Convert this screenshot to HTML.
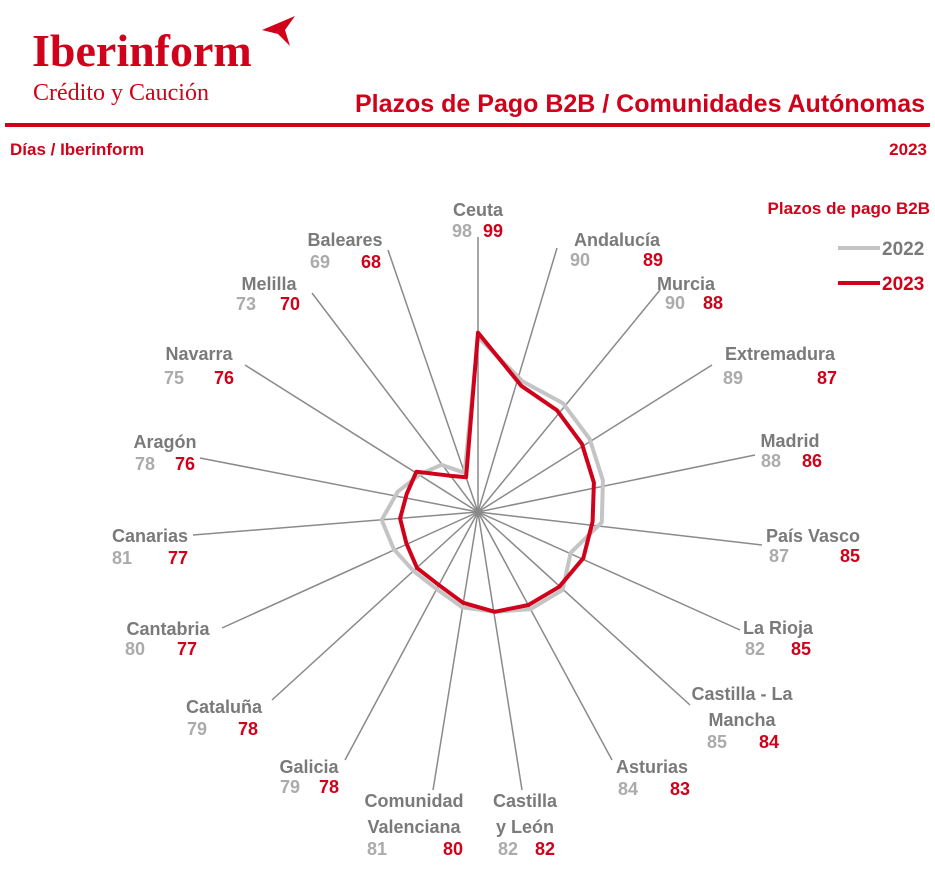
<!DOCTYPE html>
<html><head><meta charset="utf-8"><style>
html,body{margin:0;padding:0;background:#fff;}
svg{display:block;font-family:"Liberation Sans Narrow","Liberation Sans",sans-serif;font-weight:bold;}
.n{fill:#7a7a7a;font-size:18px;}
.g{fill:#ababab;font-size:18px;}
.r{fill:#d0021b;font-size:18px;}
</style></head><body>
<svg id="s" width="935" height="884" viewBox="0 0 935 884" xmlns="http://www.w3.org/2000/svg">
<text x="32" y="66" fill="#d0021b" style="font-family:'Liberation Serif',serif;font-size:46px;font-weight:bold">Iberinform</text>
<path d="M262 30 L295 16 L285 30 L290 46 L278 34 Z" fill="#d0021b"/>
<text x="33" y="100" fill="#d0021b" style="font-family:'Liberation Serif',serif;font-size:24px;font-weight:normal">Crédito y Caución</text>
<text x="925" y="112" text-anchor="end" fill="#d0021b" style="font-size:25px">Plazos de Pago B2B / Comunidades Autónomas</text>
<rect x="5" y="123" width="925" height="4" fill="#d0021b"/>
<text x="10" y="155" fill="#d0021b" style="font-size:17px">Días / Iberinform</text>
<text x="927" y="155" text-anchor="end" fill="#d0021b" style="font-size:17px">2023</text>
<text x="930" y="214" text-anchor="end" fill="#d0021b" style="font-size:17px">Plazos de pago B2B</text>
<line x1="838" y1="248" x2="880" y2="248" stroke="#c4c4c4" stroke-width="4"/>
<text x="882" y="255" class="n" style="font-size:19px">2022</text>
<line x1="838" y1="283" x2="880" y2="283" stroke="#d0021b" stroke-width="4"/>
<text x="882" y="290" class="n" style="font-size:19px;fill:#d0021b">2023</text>
<g id="sp" stroke="#8a8a8a" stroke-width="1.5"></g>
<g id="pl"></g>
<g>
<text x="478" y="216" text-anchor="middle" class="n">Ceuta</text>
<text x="462" y="237" text-anchor="middle" class="g">98</text><text x="493" y="237" text-anchor="middle" class="r">99</text>
<text x="617" y="246" text-anchor="middle" class="n">Andalucía</text>
<text x="580" y="266" text-anchor="middle" class="g">90</text><text x="653" y="266" text-anchor="middle" class="r">89</text>
<text x="686" y="290" text-anchor="middle" class="n">Murcia</text>
<text x="675" y="309" text-anchor="middle" class="g">90</text><text x="713" y="309" text-anchor="middle" class="r">88</text>
<text x="780" y="360" text-anchor="middle" class="n">Extremadura</text>
<text x="733" y="384" text-anchor="middle" class="g">89</text><text x="827" y="384" text-anchor="middle" class="r">87</text>
<text x="790" y="447" text-anchor="middle" class="n">Madrid</text>
<text x="771" y="467" text-anchor="middle" class="g">88</text><text x="812" y="467" text-anchor="middle" class="r">86</text>
<text x="813" y="542" text-anchor="middle" class="n">País Vasco</text>
<text x="779" y="562" text-anchor="middle" class="g">87</text><text x="850" y="562" text-anchor="middle" class="r">85</text>
<text x="778" y="634" text-anchor="middle" class="n">La Rioja</text>
<text x="755" y="655" text-anchor="middle" class="g">82</text><text x="801" y="655" text-anchor="middle" class="r">85</text>
<text x="742" y="700" text-anchor="middle" class="n">Castilla - La</text>
<text x="742" y="726" text-anchor="middle" class="n">Mancha</text>
<text x="717" y="748" text-anchor="middle" class="g">85</text><text x="769" y="748" text-anchor="middle" class="r">84</text>
<text x="652" y="773" text-anchor="middle" class="n">Asturias</text>
<text x="628" y="795" text-anchor="middle" class="g">84</text><text x="680" y="795" text-anchor="middle" class="r">83</text>
<text x="525" y="807" text-anchor="middle" class="n">Castilla</text>
<text x="525" y="833" text-anchor="middle" class="n">y León</text>
<text x="508" y="855" text-anchor="middle" class="g">82</text><text x="545" y="855" text-anchor="middle" class="r">82</text>
<text x="414" y="807" text-anchor="middle" class="n">Comunidad</text>
<text x="414" y="833" text-anchor="middle" class="n">Valenciana</text>
<text x="377" y="855" text-anchor="middle" class="g">81</text><text x="453" y="855" text-anchor="middle" class="r">80</text>
<text x="309" y="773" text-anchor="middle" class="n">Galicia</text>
<text x="290" y="793" text-anchor="middle" class="g">79</text><text x="329" y="793" text-anchor="middle" class="r">78</text>
<text x="224" y="713" text-anchor="middle" class="n">Cataluña</text>
<text x="197" y="735" text-anchor="middle" class="g">79</text><text x="248" y="735" text-anchor="middle" class="r">78</text>
<text x="168" y="635" text-anchor="middle" class="n">Cantabria</text>
<text x="135" y="655" text-anchor="middle" class="g">80</text><text x="187" y="655" text-anchor="middle" class="r">77</text>
<text x="150" y="542" text-anchor="middle" class="n">Canarias</text>
<text x="122" y="564" text-anchor="middle" class="g">81</text><text x="178" y="564" text-anchor="middle" class="r">77</text>
<text x="165" y="448" text-anchor="middle" class="n">Aragón</text>
<text x="145" y="470" text-anchor="middle" class="g">78</text><text x="185" y="470" text-anchor="middle" class="r">76</text>
<text x="199" y="360" text-anchor="middle" class="n">Navarra</text>
<text x="174" y="384" text-anchor="middle" class="g">75</text><text x="224" y="384" text-anchor="middle" class="r">76</text>
<text x="269" y="290" text-anchor="middle" class="n">Melilla</text>
<text x="246" y="310" text-anchor="middle" class="g">73</text><text x="290" y="310" text-anchor="middle" class="r">70</text>
<text x="345" y="246" text-anchor="middle" class="n">Baleares</text>
<text x="320" y="268" text-anchor="middle" class="g">69</text><text x="371" y="268" text-anchor="middle" class="r">68</text>
</g>
</svg>
<script>
var cx=478,cy=512,k=4.6,v0=60;
var ends=[[478,237],[557,248],[660,290],[712,365],[755,455],[762,545],[740,630],[690,705],[612,760],[522,790],[433,790],[345,760],[272,700],[222,628],[193,535],[200,458],[245,365],[312,293],[388,250]];
var a=[98,90,90,89,88,87,82,85,84,82,81,79,79,80,81,78,75,73,69];
var b=[99,89,88,87,86,85,85,84,83,82,80,78,78,77,77,76,76,70,68];
var NS="http://www.w3.org/2000/svg",sp=document.getElementById('sp'),pl=document.getElementById('pl');
ends.forEach(function(e){var l=document.createElementNS(NS,'line');l.setAttribute('x1',cx);l.setAttribute('y1',cy);l.setAttribute('x2',e[0]);l.setAttribute('y2',e[1]);sp.appendChild(l);});
function poly(v,c){var p=v.map(function(x,i){var t=i*2*Math.PI/19,r=k*(x-v0);return (cx+r*Math.sin(t)).toFixed(1)+','+(cy-r*Math.cos(t)).toFixed(1);}).join(' ');
var e=document.createElementNS(NS,'polygon');e.setAttribute('points',p);e.setAttribute('fill','none');e.setAttribute('stroke',c);e.setAttribute('stroke-width','4');e.setAttribute('stroke-linejoin','round');pl.appendChild(e);}
poly(a,'#c4c4c4');poly(b,'#d0021b');
</script>
</body></html>
